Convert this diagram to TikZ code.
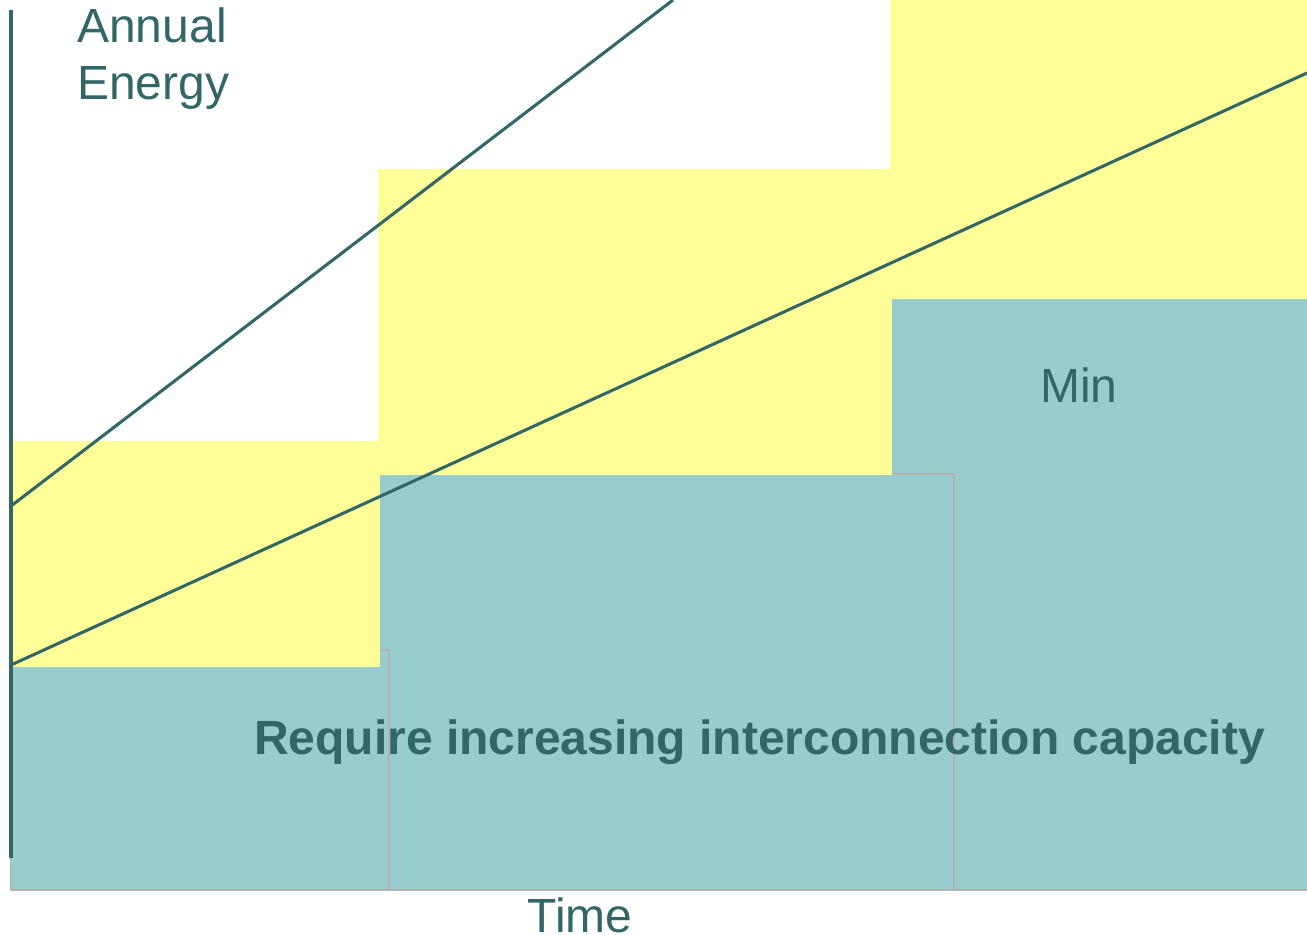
\documentclass[tikz,border=0pt]{standalone}
\usepackage{fontspec}
\setmainfont{Liberation Sans}
\definecolor{darkteal}{HTML}{336666}
\definecolor{tealfill}{HTML}{99CCCC}
\definecolor{yellowfill}{HTML}{FFFF99}
\definecolor{edgegray}{HTML}{B2B2B2}
\tikzset{
  yband/.style={fill=yellowfill, draw=none},
  tband/.style={fill=tealfill, draw=none},
  grayedge/.style={draw=edgegray, line width=1.2pt},
  trend/.style={draw=darkteal, line width=2.3pt},
  axisline/.style={draw=darkteal, line width=2.7pt},
  lbl/.style={text=darkteal, inner sep=0pt, font=\fontsize{36}{42.75}\selectfont},
}
\begin{document}
\begin{tikzpicture}[x=0.75pt,y=-0.75pt]
\useasboundingbox (0,0) rectangle (1307,935);
% yellow bands
\path[yband] (10,441) rectangle (380,667);
\path[yband] (378,169) rectangle (892,475);
\path[yband] (890,0) rectangle (1307,299);
% teal bands
\path[tband] (10,667) rectangle (380,890);
\path[tband] (380,475) rectangle (892,890);
\path[tband] (892,299) rectangle (1307,890);
% gray outlines
\draw[grayedge] (380,650) -- (389,650) -- (389,890);
\draw[grayedge] (892,474) -- (954,474) -- (954,890);
\draw[grayedge] (10.5,850) -- (10.5,890) -- (1307,890);
% trend lines
\coordinate (l1a) at (11,506);
\coordinate (l1b) at (673,0);
\coordinate (l2a) at (11,665);
\coordinate (l2b) at (1307,73);
\draw[trend] (l1a) -- (l1b);
\draw[trend] (l2a) -- (l2b);
% axis
\coordinate (axtop) at (11,10);
\coordinate (axbot) at (11,858);
\draw[axisline] (axtop) -- (axbot);
% labels
\node[lbl, anchor=base west, align=left] (energy) at (77,99) {Annual\\Energy};
\node[lbl, anchor=base west] (min) at (1040,402) {Min};
\node[lbl, anchor=base, font=\fontsize{36}{42}\selectfont\bfseries] (req) at (759.5,754) {Require increasing interconnection capacity};
\node[lbl, anchor=base] (time) at (580,932) {Time};
\end{tikzpicture}
\end{document}
